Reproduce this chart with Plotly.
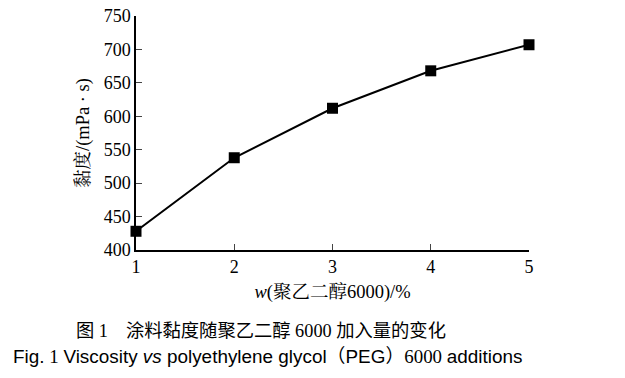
import plotly.graph_objects as go

peg_content = [1, 2, 3, 4, 5]
viscosity = [428, 538, 612, 668, 707]
y_ticks = [400, 450, 500, 550, 600, 650, 700, 750]
x_ticks = [1, 2, 3, 4, 5]

SERIF = "Liberation Serif, Times New Roman, serif"
CJK = "Noto Sans CJK SC"

# plot area in page pixels
PX0, PX1, PY0, PY1 = 136, 529, 15.5, 249.6
W, H = 625, 378

fig = go.Figure()
fig.add_trace(go.Scatter(
    x=peg_content, y=viscosity, mode="lines+markers",
    line=dict(color="black", width=2),
    marker=dict(symbol="square", size=11, color="black"),
    cliponaxis=False, showlegend=False,
))

fig.update_layout(
    width=W, height=H,
    margin=dict(l=PX0, r=W - PX1, t=PY0, b=H - PY1),
    paper_bgcolor="white", plot_bgcolor="white",
    font=dict(family=SERIF, color="black", size=18),
    xaxis=dict(
        range=[1, 5], tickvals=x_ticks, ticks="inside", ticklen=6, tickwidth=1.2,
        showline=True, linecolor="black", linewidth=1.5, showgrid=False, zeroline=False,
        automargin=False,
        tickfont=dict(family=SERIF, size=18),
        title=dict(text="<i>w</i>(<span style='font-family:Noto Serif CJK SC, Noto Sans CJK SC'>聚乙二醇</span>6000)/%",
                   font=dict(family=SERIF, size=18.5), standoff=6),
    ),
    yaxis=dict(
        range=[400, 750], tickvals=y_ticks, ticks="inside", ticklen=6, tickwidth=1.2,
        showline=True, linecolor="black", linewidth=1.5, showgrid=False, zeroline=False,
        automargin=False,
        tickfont=dict(family=SERIF, size=18),
        title=dict(text="<span style='font-family:Noto Serif CJK SC, Noto Sans CJK SC'>黏度</span>/(mPa · s)",
                   font=dict(family=SERIF, size=18.5), standoff=9),
    ),
)

def fx(px):
    return (px - PX0) / (PX1 - PX0)

def fy(py):
    return (PY1 - py) / (PY1 - PY0)

fig.add_annotation(
    xref="paper", yref="paper", x=fx(261), y=fy(329),
    xanchor="center", yanchor="middle", showarrow=False,
    text=("<span style='font-family:" + CJK + "'>图</span> 1　"
          "<span style='font-family:" + CJK + "'>涂料黏度随聚乙二醇</span> 6000 "
          "<span style='font-family:" + CJK + "'>加入量的变化</span>"),
    font=dict(family=SERIF, size=18.3, color="black"),
)
fig.add_annotation(
    xref="paper", yref="paper", x=fx(267), y=fy(354),
    xanchor="center", yanchor="middle", showarrow=False,
    text=("<span style='font-family:Liberation Sans'>Fig.</span> 1 "
          "<span style='font-family:Liberation Sans'>Viscosity <i>vs</i> polyethylene glycol"
          "</span><span style='font-family:" + CJK + "'>（</span><span style='font-family:Liberation Sans'>PEG</span>"
          "<span style='font-family:" + CJK + "'>）</span>6000 "
          "<span style='font-family:Liberation Sans'>additions</span>"),
    font=dict(family=SERIF, size=18.9, color="black"),
)

fig.write_html("out.html", config={"displayModeBar": False},
               post_script="document.body.style.margin='0px';document.body.style.overflow='hidden';")
